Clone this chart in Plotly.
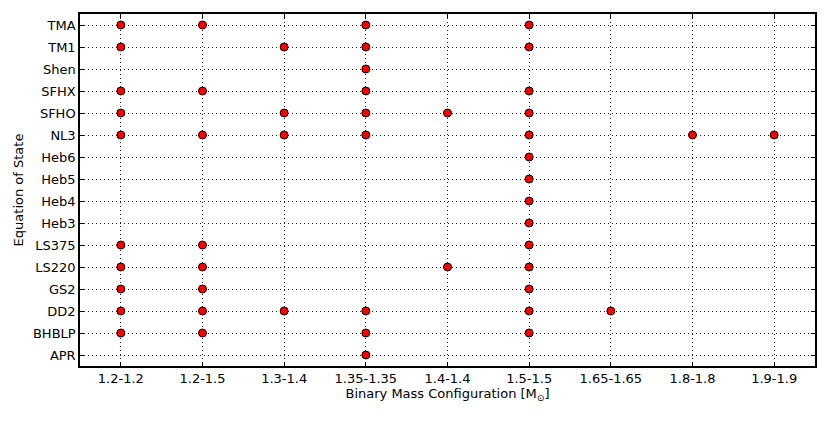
import plotly.graph_objects as go

configs = ["1.2-1.2", "1.2-1.5", "1.3-1.4", "1.35-1.35", "1.4-1.4",
           "1.5-1.5", "1.65-1.65", "1.8-1.8", "1.9-1.9"]
eos = ["APR", "BHBLP", "DD2", "GS2", "LS220", "LS375", "Heb3", "Heb4",
       "Heb5", "Heb6", "NL3", "SFHO", "SFHX", "Shen", "TM1", "TMA"]

runs_APR = ["1.35-1.35"]
runs_BHBLP = ["1.2-1.2", "1.2-1.5", "1.35-1.35", "1.5-1.5"]
runs_DD2 = ["1.2-1.2", "1.2-1.5", "1.3-1.4", "1.35-1.35", "1.5-1.5", "1.65-1.65"]
runs_GS2 = ["1.2-1.2", "1.2-1.5", "1.5-1.5"]
runs_LS220 = ["1.2-1.2", "1.2-1.5", "1.4-1.4", "1.5-1.5"]
runs_LS375 = ["1.2-1.2", "1.2-1.5", "1.5-1.5"]
runs_Heb3 = ["1.5-1.5"]
runs_Heb4 = ["1.5-1.5"]
runs_Heb5 = ["1.5-1.5"]
runs_Heb6 = ["1.5-1.5"]
runs_NL3 = ["1.2-1.2", "1.2-1.5", "1.3-1.4", "1.35-1.35", "1.5-1.5", "1.8-1.8", "1.9-1.9"]
runs_SFHO = ["1.2-1.2", "1.3-1.4", "1.35-1.35", "1.4-1.4", "1.5-1.5"]
runs_SFHX = ["1.2-1.2", "1.2-1.5", "1.35-1.35", "1.5-1.5"]
runs_Shen = ["1.35-1.35"]
runs_TM1 = ["1.2-1.2", "1.3-1.4", "1.35-1.35", "1.5-1.5"]
runs_TMA = ["1.2-1.2", "1.2-1.5", "1.35-1.35", "1.5-1.5"]

runs = {
    "APR": runs_APR, "BHBLP": runs_BHBLP, "DD2": runs_DD2, "GS2": runs_GS2,
    "LS220": runs_LS220, "LS375": runs_LS375, "Heb3": runs_Heb3, "Heb4": runs_Heb4,
    "Heb5": runs_Heb5, "Heb6": runs_Heb6, "NL3": runs_NL3, "SFHO": runs_SFHO,
    "SFHX": runs_SFHX, "Shen": runs_Shen, "TM1": runs_TM1, "TMA": runs_TMA,
}

xs, ys = [], []
for e in eos:
    for c in runs[e]:
        xs.append(configs.index(c))
        ys.append(eos.index(e))

fig = go.Figure()
fig.add_trace(go.Scatter(
    x=xs, y=ys, mode="markers",
    marker=dict(size=8, color="#ff0000", line=dict(color="black", width=1)),
    showlegend=False, hoverinfo="skip",
))

font = dict(family="DejaVu Sans", size=13, color="black")
grid = dict(showgrid=True, gridcolor="#222222", griddash="1px,3px", gridwidth=1)
fig.update_layout(
    width=822, height=413,
    margin=dict(l=72, r=15, t=6, b=55, autoexpand=False),
    paper_bgcolor="white", plot_bgcolor="white",
    font=font,
    xaxis=dict(
        range=[-0.5, len(configs) - 0.5],
        tickmode="array", tickvals=list(range(len(configs))), ticktext=configs,
        ticks="inside", ticklen=4, tickcolor="black",
        showline=True, linecolor="black", linewidth=1.5, mirror="ticks",
        zeroline=False, automargin=False,
        title=dict(text="Binary Mass Configuration [M<sub>⊙</sub>]", standoff=1, font=font),
        tickfont=font, **grid,
    ),
    yaxis=dict(
        range=[-0.5, len(eos) - 0.5],
        tickmode="array", tickvals=list(range(len(eos))), ticktext=eos,
        ticks="inside", ticklen=4, tickcolor="black",
        showline=True, linecolor="black", linewidth=1.5, mirror="ticks",
        zeroline=False, automargin=False,
        title=dict(text="Equation of State", standoff=6, font=font),
        tickfont=font, **grid,
    ),
)

fig.write_html("out.html")
